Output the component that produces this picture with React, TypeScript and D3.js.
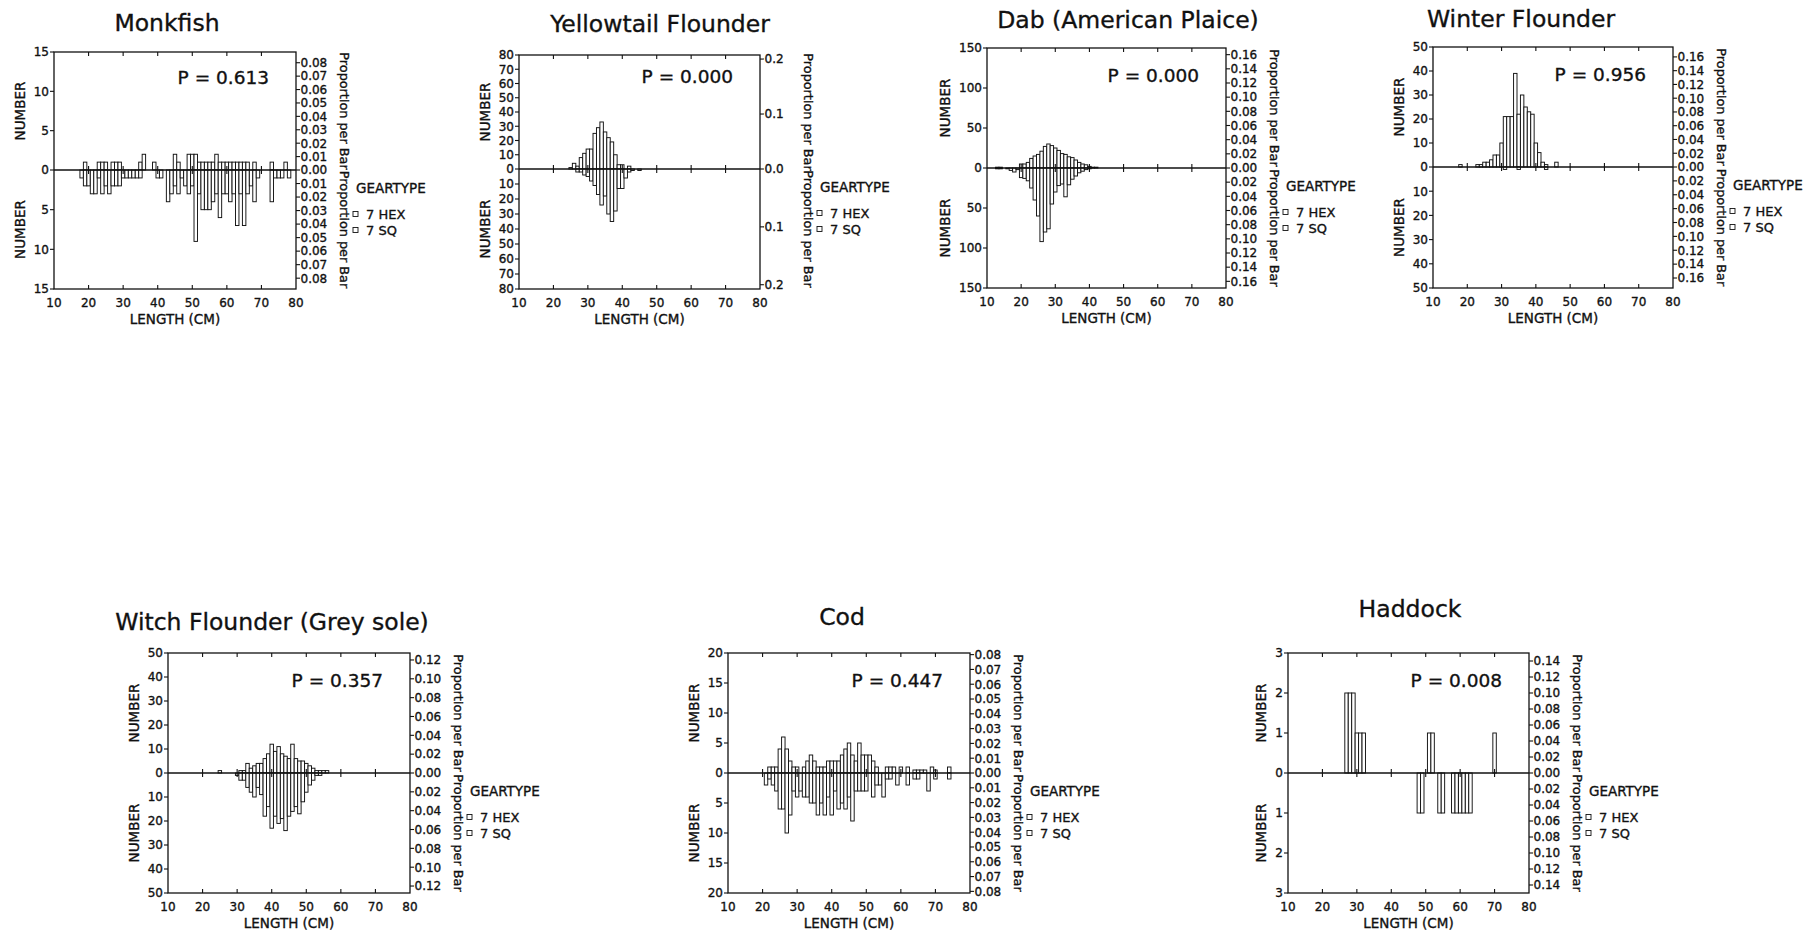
import React from 'react';
import * as d3 from 'd3';

const FONT = '"DejaVu Sans", Verdana, sans-serif';
const INK = '#111';

// ---------- categories / labels ----------
const species = ['Monkfish', 'Yellowtail Flounder', 'Dab (American Plaice)', 'Winter Flounder', 'Witch Flounder (Grey sole)', 'Cod', 'Haddock'];
const pValues = ['0.613', '0.000', '0.000', '0.956', '0.357', '0.447', '0.008'];
const gearTypes = ['7 HEX', '7 SQ'];
const lengthTicks = [10, 20, 30, 40, 50, 60, 70, 80];

// NUMBER axis (both halves) and Proportion-per-bar axis
const numberMax = [15, 80, 150, 50, 50, 20, 3];
const numberStep = [5, 10, 50, 10, 10, 5, 1];
const proportionEdge = [0.088, 0.2074, 0.1694, 0.1744, 0.1274, 0.0811, 0.15];
const proportionTickMax = [0.08, 0.2, 0.16, 0.16, 0.12, 0.08, 0.14];
const proportionStep = [0.01, 0.1, 0.02, 0.02, 0.02, 0.01, 0.02];
const proportionDigits = [2, 1, 2, 2, 2, 2, 2];

// ---------- series: counts per 1-cm length class, starting at *Start ----------
const monkfishStart = 18;
const monkfishHex = [0,1,0,0,0,1,1,1,0,1, 1,1,0,0,0,0,0,1,2,0, 0,1,0,0,0,0,0,2,1,0, 0,2,2,2,1,1,1,1,1,2, 1,1,1,1,1,1,1,1,1,0, 1,0,0,0,0,1,0,0,0,1, 0,0];
const monkfishSq = [1,2,2,3,3,1,3,2,3,2, 2,2,1,1,1,1,1,1,0,0, 0,0,1,1,0,4,3,2,3,1, 2,3,2,9,3,5,5,5,4,3, 6,3,3,4,3,7,3,7,3,2, 4,1,0,0,0,4,1,1,1,0, 1,0];

const yellowtailStart = 25;
const yellowtailHex = [1,4,2,8,11,14,14,25,29,33,26,22,19,10,3,3,0,2,0,0,0];
const yellowtailSq = [0,0,2,2,4,5,8,11,17,24,18,30,35,28,13,13,6,2,1,0,1];

const dabStart = 13;
const dabHex = [1,1,0,0,0,0,0,5,5,7,12,15,17,21,27,30,28,25,22,18,17,14,13,10,7,5,4,2,1,1];
const dabSq = [1,1,0,1,3,5,2,12,13,16,25,40,60,92,80,76,45,30,22,20,36,21,14,10,6,4,2,1,0,0];

const winterStart = 18;
const winterHex = [1,0,0,0,0,1,1,2,2,3,5,5,10,21,21,21,39,22,30,25,23,22,10,6,2,1,0,0,2,0];
const winterSq = [0,0,0,0,0,0,0,0,0,0,0,0,0,1,0,0,0,1,0,0,0,0,0,0,0,1,0,0,0,0];

const witchStart = 25;
const witchHex = [1,0,0,0,0,0,1,1,4,2,3,4,4,6,8,12,9,11,8,7,6,12,6,5,5,4,3,2,1,1,1,1];
const witchSq = [0,0,0,0,0,1,3,3,6,8,10,6,9,18,14,23,18,21,19,24,18,16,14,17,12,8,5,3,1,1,0,0];

const codStart = 21;
const codHex = [0,1,1,1,4,6,4,2,1,1, 0,1,2,3,2,1,1,1,2,2, 2,2,3,4,5,3,2,5,3,3, 3,2,1,0,0,1,1,1,0,1, 0,1,0,0.5,0.5,0.5,0.5,0,1,0.5, 0,0,0,1,0];
const codSq = [2,1,2,3,6,6,10,7,3,4, 3,4,4,5,5,7,5,7,4,7, 3,6,5,6,4,8,3,3,3,3, 0,4,2,2,4,1,1,0,2,0, 0,2,0,1,1,0,0,3,0,1, 0,0,0,1,0];

const haddockStart = 27;
const haddockHex = [2,2,2,1,1,1,0,0,0,0, 0,0,0,0,0,0,0,0,0,0, 0,0,0,0,1,1,0,0,0,0, 0,0,0,0,0,0,0,0,0,0, 0,0,0,1];
const haddockSq = [0,0,0,0,0,0,0,0,0,0, 0,0,0,0,0,0,0,0,0,0, 0,1,1,0,0,0,0,1,1,0, 0,1,1,1,1,1,1,0,0,0, 0,0,0,0];

const SERIES = [
  { start: monkfishStart, hex: monkfishHex, sq: monkfishSq },
  { start: yellowtailStart, hex: yellowtailHex, sq: yellowtailSq },
  { start: dabStart, hex: dabHex, sq: dabSq },
  { start: winterStart, hex: winterHex, sq: winterSq },
  { start: witchStart, hex: witchHex, sq: witchSq },
  { start: codStart, hex: codHex, sq: codSq },
  { start: haddockStart, hex: haddockHex, sq: haddockSq },
];

// ---------- layout (page pixels) ----------
const LAYOUT = [
  { left: 54, right: 296, top: 52, zero: 170, bottom: 289, titleX: 167, titleY: 31 },
  { left: 519, right: 760, top: 55, zero: 169, bottom: 289, titleX: 660, titleY: 32 },
  { left: 987, right: 1226, top: 48, zero: 168, bottom: 288, titleX: 1128, titleY: 28 },
  { left: 1433, right: 1673, top: 47, zero: 167, bottom: 288, titleX: 1521, titleY: 27 },
  { left: 168, right: 410, top: 653, zero: 773, bottom: 893, titleX: 272, titleY: 630 },
  { left: 728, right: 970, top: 653, zero: 773, bottom: 893, titleX: 842, titleY: 625 },
  { left: 1288, right: 1529, top: 653, zero: 773, bottom: 893, titleX: 1410, titleY: 617 },
];

const TICK_FS = 12;
const TICK = 4;
const TEXT_STROKE = 0.35;

function Panel({ i }: { i: number }) {
  const L = LAYOUT[i];
  const halfUp = L.zero - L.top;
  const halfDown = L.bottom - L.zero;
  const x = d3.scaleLinear().domain([10, 80]).range([L.left, L.right]);
  const yUp = d3.scaleLinear().domain([0, numberMax[i]]).range([L.zero, L.top]);
  const yDown = d3.scaleLinear().domain([0, numberMax[i]]).range([L.zero, L.bottom]);
  const pUp = d3.scaleLinear().domain([0, proportionEdge[i]]).range([L.zero, L.top]);
  const pDown = d3.scaleLinear().domain([0, proportionEdge[i]]).range([L.zero, L.bottom]);
  const s = SERIES[i];

  const nTicks = d3.range(0, numberMax[i] + numberStep[i] / 2, numberStep[i]);
  const pTicks = d3.range(0, proportionTickMax[i] + proportionStep[i] / 2, proportionStep[i]);
  const fmtP = d3.format(`.${proportionDigits[i]}f`);

  const labelW = String(numberMax[i]).length * 0.636 * TICK_FS;
  const numberTitleX = L.left - 5 - labelW - 9;
  const propTitleX = L.right + 44;

  const bars: React.ReactNode[] = [];
  s.hex.forEach((v, k) => {
    if (v <= 0) return;
    const c = s.start + k;
    const x0 = x(c - 0.5), x1 = x(c + 0.5);
    const yy = Math.max(yUp(v), L.top);
    bars.push(<rect key={`h${k}`} x={x0} y={yy} width={x1 - x0} height={L.zero - yy} fill="#fff" stroke={INK} strokeWidth={0.95} />);
  });
  s.sq.forEach((v, k) => {
    if (v <= 0) return;
    const c = s.start + k;
    const x0 = x(c - 0.5), x1 = x(c + 0.5);
    bars.push(<rect key={`s${k}`} x={x0} y={L.zero} width={x1 - x0} height={yDown(v) - L.zero} fill="#fff" stroke={INK} strokeWidth={0.95} />);
  });

  const txt = { fill: INK, stroke: INK, strokeWidth: TEXT_STROKE };

  return (
    <g fontFamily={FONT}>
      <text {...txt} x={L.titleX} y={L.titleY} fontSize={23.5} textAnchor="middle">{species[i]}</text>

      {bars}

      {/* frame and zero line */}
      <rect x={L.left} y={L.top} width={L.right - L.left} height={L.bottom - L.top} fill="none" stroke={INK} strokeWidth={1.3} />
      <line x1={L.left} x2={L.right} y1={L.zero} y2={L.zero} stroke={INK} strokeWidth={1.3} />

      {/* length ticks */}
      {lengthTicks.map((t) => (
        <g key={`xt${t}`}>
          {t > 10 && t < 80 && (
            <>
              <line x1={x(t)} x2={x(t)} y1={L.top} y2={L.top + TICK} stroke={INK} strokeWidth={1.1} />
              <line x1={x(t)} x2={x(t)} y1={L.zero - TICK} y2={L.zero + TICK} stroke={INK} strokeWidth={1.1} />
              <line x1={x(t)} x2={x(t)} y1={L.bottom - TICK} y2={L.bottom} stroke={INK} strokeWidth={1.1} />
            </>
          )}
          <text {...txt} x={x(t)} y={L.bottom + 17.5} fontSize={TICK_FS} textAnchor="middle">{t}</text>
        </g>
      ))}
      <text {...txt} x={(L.left + L.right) / 2} y={L.bottom + 35} fontSize={13.5} textAnchor="middle">LENGTH (CM)</text>

      {/* NUMBER axis, upper and lower halves */}
      {nTicks.map((v) => {
        const yu = yUp(v);
        const yd = yDown(v);
        return (
          <g key={`nt${v}`}>
            <line x1={L.left - TICK} x2={L.left} y1={yu} y2={yu} stroke={INK} strokeWidth={1.1} />
            <text {...txt} x={L.left - 5} y={yu} dy="0.36em" fontSize={TICK_FS} textAnchor="end">{v}</text>
            {v > 0 && (
              <>
                <line x1={L.left - TICK} x2={L.left} y1={yd} y2={yd} stroke={INK} strokeWidth={1.1} />
                <text {...txt} x={L.left - 5} y={yd} dy="0.36em" fontSize={TICK_FS} textAnchor="end">{v}</text>
              </>
            )}
          </g>
        );
      })}
      <text {...txt} transform={`translate(${numberTitleX},${L.zero - halfUp / 2}) rotate(-90)`} fontSize={13.5} textAnchor="middle">NUMBER</text>
      <text {...txt} transform={`translate(${numberTitleX},${L.zero + halfDown / 2}) rotate(-90)`} fontSize={13.5} textAnchor="middle">NUMBER</text>

      {/* Proportion per Bar axis */}
      {pTicks.map((v, k) => {
        const yu = pUp(v);
        const yd = pDown(v);
        return (
          <g key={`pt${k}`}>
            <line x1={L.right} x2={L.right + TICK} y1={yu} y2={yu} stroke={INK} strokeWidth={1.1} />
            <text {...txt} x={L.right + 4.5} y={yu} dy="0.36em" fontSize={TICK_FS} textAnchor="start">{fmtP(v)}</text>
            {k > 0 && (
              <>
                <line x1={L.right} x2={L.right + TICK} y1={yd} y2={yd} stroke={INK} strokeWidth={1.1} />
                <text {...txt} x={L.right + 4.5} y={yd} dy="0.36em" fontSize={TICK_FS} textAnchor="start">{fmtP(v)}</text>
              </>
            )}
          </g>
        );
      })}
      <text {...txt} transform={`translate(${propTitleX},${L.zero - halfUp / 2}) rotate(90)`} fontSize={12.8} textAnchor="middle">Proportion per Bar</text>
      <text {...txt} transform={`translate(${propTitleX},${L.zero + halfDown / 2}) rotate(90)`} fontSize={12.8} textAnchor="middle">Proportion per Bar</text>

      {/* P value */}
      <text {...txt} x={L.right - 27} y={L.zero - 86} fontSize={18.5} textAnchor="end">{`P = ${pValues[i]}`}</text>

      {/* legend */}
      <text {...txt} x={L.right + 60} y={L.zero + 23} fontSize={13.5}>GEARTYPE</text>
      {gearTypes.map((g, k) => {
        const yy = L.zero + 44 + k * 16;
        return (
          <g key={g}>
            <rect x={L.right + 57} y={yy - 2.5} width={5} height={5} fill="#fff" stroke={INK} strokeWidth={0.9} />
            <text {...txt} x={L.right + 70} y={yy} dy="0.36em" fontSize={13}>{g}</text>
          </g>
        );
      })}
    </g>
  );
}

export default function App() {
  return (
    <svg
      width={1815}
      height={934}
      viewBox="0 0 1815 934"
      style={{ position: 'absolute', left: 0, top: 0, display: 'block', background: '#fff' }}
    >
      <rect x={0} y={0} width={1815} height={934} fill="#fff" />
      {species.map((_, i) => (
        <Panel key={i} i={i} />
      ))}
    </svg>
  );
}
